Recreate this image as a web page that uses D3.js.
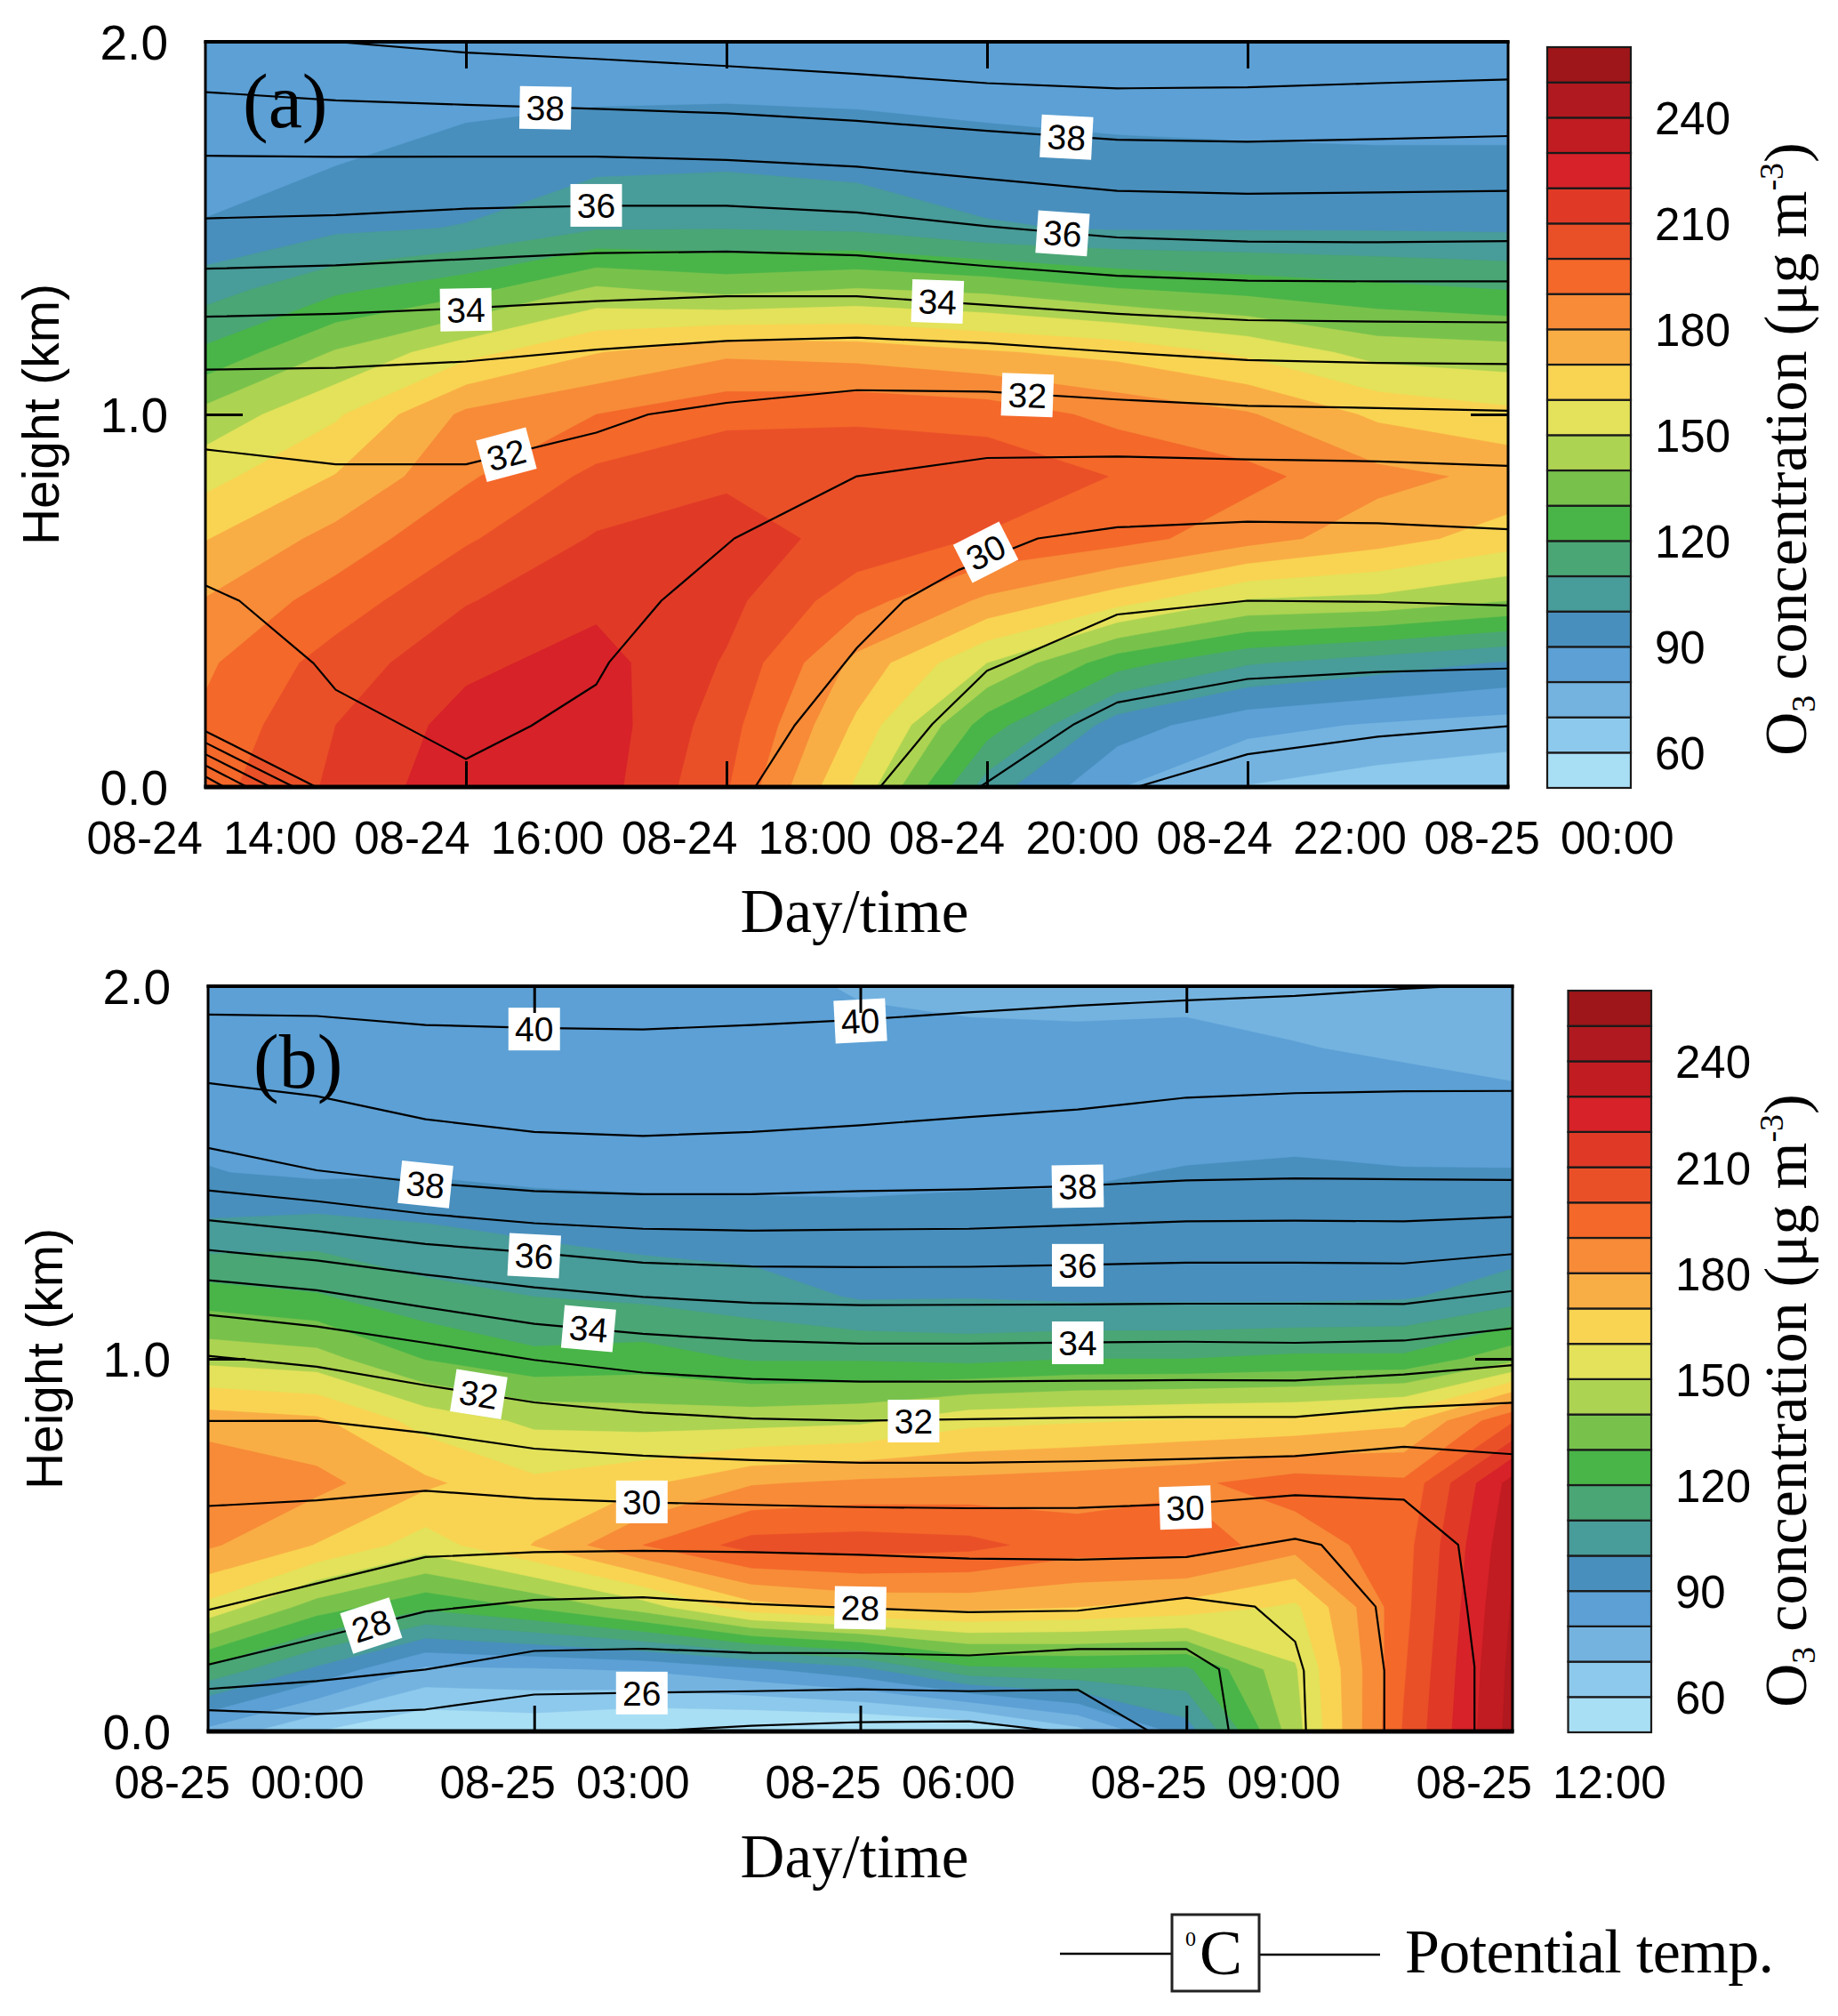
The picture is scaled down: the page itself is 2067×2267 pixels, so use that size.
<!DOCTYPE html>
<html><head><meta charset="utf-8">
<script src="https://cdn.jsdelivr.net/npm/d3@7"></script>
<style>html,body{margin:0;padding:0;background:#fff}svg{display:block}</style>
</head><body><svg id="c" width="2067" height="2267" viewBox="0 0 2067 2267"></svg>
<script>
// ---------- data ----------
const bandFloors = [50,60,70,80,90,100,110,120,130,140,150,160,170,180,190,200,210,220,230,240,250];
const bandColors = ["#a9dff5","#8dc9ec","#74b3e0","#5ca0d5","#488fbd","#489c99","#4aa675","#49b548","#78c24c","#add352","#e3e25a","#f9d452","#f9ae45","#f78b38","#f4682a","#ea5028","#e03a27","#d72229","#c11c22","#b0191f","#9e1619"];
const barTicks = [60,90,120,150,180,210,240];
const kmLevels = 13; // 0 to 2 km, one sixth of a km apart

// O3, one list per hour, from the ground up
const o3A = [
 [196,192,188.3,180.6,169.5,156.5,143.4,122,106,91,85,84,83],
 [212,210,204.5,194.5,183.5,170.5,158.5,141,118,98,90,86,84],
 [227,224,217.6,209.3,198.7,188.5,182.2,156.5,126.8,100.5,94.5,88,84],
 [225,226,224,217.5,211,202.5,190,169.5,142,109,98,89.6,85],
 [201,204.5,209,213,214,208.5,197,178,137,109.5,99,90,85],
 [158,168,177,194,207,208,198,176,141,108,97,89.3,85],
 [105,125,150,178,199,207,196,171,138,101,94.5,88,85],
 [80.5,95,124,164,194,199.5,187,167,131,99,93,87,84],
 [69.5,83,111,149,184,193,181,158,127,99,92,87,84],
 [65,79,105,147,174.5,183,168,146,123,99,92,86,84],
 [62,76,99,140,165,177.5,162.6,144,120,98.5,92,86,84]
];
const o3B = [
 [77,117.5,157,181.5,190,175,147,125,103.3,90.5,86,84,83],
 [60,98,135,169.5,183,172,144,121,106,88,86,85,84],
 [50,78,122,155,172,156,129.5,113.4,102.5,89,86,85,84],
 [52,79,131,170.5,162,148,122.5,110,99,87,85.5,84.5,84],
 [47,81,145,190,168,146,124.5,108,96,87,85,84,83],
 [45,88,166,204,179,146,119,105,95,87,85,84,83],
 [45,97,172,205,182,148,119,99,94.5,87,85,83,79],
 [47,117,173,203,183,157,117,99.5,93.5,88.5,85,83,77],
 [66,119,170,195,185,159,120,98,93,89,85,83,76],
 [95,118,166,196,188,161,120,98,92,90.5,86,83,77],
 [146,149,158,184,195,162,122,98,92,91,87,80.5,76],
 [201,199,197,196,192,167.5,122,99,93,90.5,85,78.5,74],
 [244,243,241,238,234,199,137,105,94,90.5,83.5,76,73]
];
// potential temperature lines: [hour since start of panel, km]
const hrsA = [0,1,2,3,4,5,6,7,8,9,10];
const thetaA = [
 [[1,2.0],[2,1.971],[3,1.954],[4,1.935],[5,1.914],[6,1.889],[7,1.875],[8,1.878],[9,1.889],[10,1.899]],
 hrsA.map((h,i)=>[h,[1.865,1.843,1.831,1.82,1.808,1.788,1.761,1.737,1.732,1.739,1.747][i]]),
 hrsA.map((h,i)=>[h,[1.694,1.691,1.692,1.692,1.683,1.665,1.632,1.6,1.592,1.596,1.6][i]]),
 hrsA.map((h,i)=>[h,[1.526,1.535,1.552,1.56,1.56,1.542,1.505,1.475,1.464,1.462,1.465][i]]),
 hrsA.map((h,i)=>[h,[1.391,1.4,1.417,1.433,1.437,1.427,1.398,1.372,1.359,1.357,1.357][i]]),
 hrsA.map((h,i)=>[h,[1.262,1.27,1.285,1.304,1.317,1.317,1.294,1.27,1.253,1.249,1.247][i]]),
 hrsA.map((h,i)=>[h,[1.12,1.125,1.142,1.174,1.197,1.206,1.191,1.167,1.146,1.138,1.135][i]]),
 [[0,.906],[1,.866],[2,.866],[3,.951],[3.4,1.0],[4,1.031],[5,1.065],[6,1.061],[7,1.04],[8,1.023],[9,1.017],[10,1.01]],
 [[0,.541],[.26,.5],[.83,.332],[1,.261],[2,.075],[2.5,.164],[3,.275],[3.1,.335],[3.5,.5],[4.06,.667],[5,.834],[6,.883],[7,.887],[8,.879],[9,.874],[10,.862]],
 [[4.22,0],[4.52,.164],[5,.373],[5.36,.5],[5.78,.582],[6.39,.667],[7,.697],[8,.712],[9,.708],[10,.692]],
 [[5.18,0],[5.58,.169],[6,.312],[6.13,.331],[7,.463],[8,.5],[9,.497],[10,.487]],
 [[5.945,0],[6.67,.169],[7,.227],[8,.29],[9,.309],[10,.318]],
 [[7.15,0],[8,.088],[9,.135],[10,.163]],
 [[0,.15],[.85,0]],[[0,.119],[.68,0]],[[0,.088],[.5,0]],[[0,.058],[.32,0]],[[0,.028],[.145,0]]
];
const hrsB = [0,1,2,3,4,5,6,7,8,9,10,11,12];
const thetaB = [
 [[0,1.924],[1,1.92],[2,1.896],[3,1.888],[4,1.884],[5,1.896],[6,1.91],[7,1.93],[8,1.948],[9,1.962],[10,1.974],[11,1.993],[11.5,2.0]],
 hrsB.map((h,i)=>[h,[1.74,1.705,1.643,1.609,1.598,1.609,1.627,1.649,1.669,1.701,1.713,1.718,1.719][i]]),
 hrsB.map((h,i)=>[h,[1.566,1.506,1.472,1.45,1.442,1.442,1.45,1.455,1.464,1.479,1.484,1.482,1.48][i]]),
 hrsB.map((h,i)=>[h,[1.452,1.423,1.389,1.364,1.349,1.344,1.347,1.349,1.359,1.369,1.371,1.369,1.381][i]]),
 hrsB.map((h,i)=>[h,[1.372,1.343,1.308,1.285,1.258,1.248,1.246,1.247,1.252,1.258,1.258,1.256,1.281][i]]),
 hrsB.map((h,i)=>[h,[1.292,1.264,1.226,1.192,1.166,1.15,1.144,1.145,1.146,1.148,1.148,1.147,1.182][i]]),
 hrsB.map((h,i)=>[h,[1.211,1.184,1.138,1.094,1.067,1.049,1.041,1.041,1.044,1.046,1.043,1.049,1.082][i]]),
 hrsB.map((h,i)=>[h,[1.118,1.087,1.043,.997,.963,.946,.939,.939,.941,.943,.942,.958,.983][i]]),
 hrsB.map((h,i)=>[h,[1.008,.979,.929,.883,.856,.84,.834,.838,.842,.844,.844,.869,.882][i]]),
 hrsB.map((h,i)=>[h,[.833,.834,.801,.759,.74,.728,.721,.721,.725,.731,.739,.764,.744][i]]),
 [[0,.605],[1,.62],[2,.646],[3,.625],[4,.615],[5,.608],[6,.602],[7,.599],[8,.6],[9,.611],[10,.634],[11,.622],[11.5,.501],[11.58,.335],[11.65,.174],[11.65,0]],
 [[0,.326],[1,.397],[2,.468],[3,.481],[4,.485],[5,.481],[6,.474],[7,.464],[8,.461],[9,.468],[10,.517],[10.24,.501],[10.74,.335],[10.82,.163],[10.82,0]],
 [[0,.179],[1,.25],[2,.322],[3,.353],[4,.36],[5,.342],[6,.331],[7,.32],[8,.324],[9,.359],[9.63,.335],[10,.241],[10.08,.163],[10.1,0]],
 [[0,.114],[1,.135],[2,.166],[3,.216],[4,.222],[5,.211],[6,.21],[7,.204],[8,.221],[9,.221],[9.3,.167],[9.39,0]],
 [[0,.057],[1,.047],[2,.059],[3,.099],[4,.104],[5,.108],[6,.113],[7,.108],[8,.112],[8.66,0]],
 [[4.05,0],[5,.015],[6,.025],[7,.027],[7.82,0]]
];
// contour labels: [text, hour, km, tilt]
const labelsA = [["38",2.61,1.823,1],["38",6.61,1.744,3],["36",3.0,1.561,0],["36",6.58,1.486,4],["34",2.0,1.281,-1],["34",5.62,1.303,2],["32",2.31,.892,-15],["32",6.31,1.052,2],["30",5.99,.63,-27]];
const labelsB = [["40",3,1.885,0],["40",6,1.907,-3],["38",2,1.468,6],["38",8,1.463,-1],["36",3,1.277,3],["36",8,1.251,0],["34",3.5,1.081,5],["34",8,1.043,0],["32",2.49,.905,9],["32",6.49,.833,0],["30",3.99,.616,0],["30",8.99,.601,-2],["28",1.5,.284,-18],["28",6,.332,1],["26",3.99,.103,0]];
const timeLabelsA = ["08-24 14:00","08-24 16:00","08-24 18:00","08-24 20:00","08-24 22:00","08-25 00:00"];
const timeLabelsB = ["08-25 00:00","08-25 03:00","08-25 06:00","08-25 09:00","08-25 12:00"];
const ticksA = [2,4,6,8];
const ticksB = [3,6,9];
const heightTicks = [0,1,2];

// ---------- drawing ----------
const SANS = "'Liberation Sans',Arial,sans-serif", SERIF = "'Liberation Serif','Times New Roman',serif";
const svg = d3.select("#c");
const line2 = (x1,y1,x2,y2,w)=>svg.append("line").attr("x1",x1).attr("y1",y1).attr("x2",x2).attr("y2",y2).attr("stroke","#000").attr("stroke-width",w);

function panel(o){
  const x = d3.scaleLinear([0,o.hours],[o.l,o.r]);
  const y = d3.scaleLinear([0,2],[o.b,o.t]);
  const nx = o.grid.length, ny = kmLevels;
  const flat = [];
  for(let j=0;j<ny;j++) for(let i=0;i<nx;i++) flat.push(o.grid[i][j]);
  const thresholds = bandFloors.map((v,i)=>i===0?0:v);
  const conts = d3.contours().size([nx,ny]).smooth(true).thresholds(thresholds)(flat);
  const proj = d3.geoTransform({point(px,py){ this.stream.point(x(px-0.5), y((py-0.5)/6)); }});
  const path = d3.geoPath(proj);
  const clipId = "clip"+o.name;
  svg.append("clipPath").attr("id",clipId).append("rect").attr("x",o.l).attr("y",o.t).attr("width",o.r-o.l).attr("height",o.b-o.t);
  const g = svg.append("g").attr("clip-path",`url(#${clipId})`);
  g.selectAll("path.o3").data(conts).join("path").attr("class","o3")
    .attr("d",path).attr("fill",(d,i)=>bandColors[i]).attr("stroke",(d,i)=>bandColors[i]).attr("stroke-width",0.4);
  const ln = d3.line().x(d=>x(d[0])).y(d=>y(d[1]));
  g.selectAll("path.theta").data(o.theta).join("path").attr("class","theta")
    .attr("d",ln).attr("fill","none").attr("stroke","#000").attr("stroke-width",2.2).attr("stroke-linejoin","round");
  // contour labels
  const lab = svg.append("g").selectAll("g").data(o.labels).join("g")
    .attr("transform",d=>`translate(${x(d[1])},${y(d[2])}) rotate(${d[3]})`);
  lab.append("rect").attr("x",-29).attr("y",-24).attr("width",58).attr("height",48).attr("fill","#fff");
  lab.append("text").attr("text-anchor","middle").attr("y",14).attr("font-family",SANS).attr("font-size",39).attr("fill","#000").text(d=>d[0]);
  // interior ticks
  const ax = (gen,tx,ty)=>{ const a = svg.append("g").attr("transform",`translate(${tx},${ty})`).call(gen);
    a.select(".domain").remove(); a.selectAll("text").remove(); a.selectAll("line").attr("stroke","#000").attr("stroke-width",3); };
  ax(d3.axisBottom(x).tickValues(o.ticks).tickSize(-29),0,o.b);
  ax(d3.axisTop(x).tickValues(o.ticks).tickSize(-30),0,o.t);
  ax(d3.axisLeft(y).tickValues([1]).tickSize(-42),o.l,0);
  ax(d3.axisRight(y).tickValues([1]).tickSize(-42),o.r,0);
  // frame
  svg.append("rect").attr("x",o.l).attr("y",o.t).attr("width",o.r-o.l).attr("height",o.b-o.t).attr("fill","none").attr("stroke","#000").attr("stroke-width",3);
  line2(o.l-1.5,o.b,o.r+1.5,o.b,5); line2(o.l-1.5,o.t,o.r+1.5,o.t,4);
  // height tick labels
  svg.append("g").selectAll("text").data(heightTicks).join("text")
    .attr("x",o.l-42).attr("y",d=>y(d)+20).attr("text-anchor","end").attr("font-family",SANS).attr("font-size",55).text(d=>d.toFixed(1));
  // time tick labels
  const tl = d3.scalePoint(o.timeLabels,[o.tl0,o.tl1]);
  svg.append("g").selectAll("text").data(o.timeLabels).join("text")
    .attr("x",d=>tl(d)).attr("y",o.b+75).attr("text-anchor","middle").attr("font-family",SANS).attr("font-size",51).attr("word-spacing",9).text(d=>d);
  // titles
  svg.append("text").attr("x",961).attr("y",o.b+o.xTitle).attr("text-anchor","middle").attr("font-family",SERIF).attr("font-size",69).text("Day/time");
  svg.append("text").attr("transform",`translate(${o.yTitleX},${y(1)}) rotate(-90)`).attr("text-anchor","middle")
    .attr("font-family",SANS).attr("font-size",58).attr("textLength",294).attr("lengthAdjust","spacingAndGlyphs").text("Height (km)");
  svg.append("text").attr("x",o.pl.x).attr("y",o.pl.y).attr("font-family",SERIF).attr("font-size",86).text(o.pl.t);
  // colour bar
  const cy = d3.scaleLinear([50,260],[o.cb,o.ct]);
  svg.append("g").selectAll("rect").data(bandFloors).join("rect")
    .attr("x",o.cl).attr("width",o.cr-o.cl).attr("y",d=>cy(d+10)).attr("height",d=>cy(d)-cy(d+10))
    .attr("fill",(d,i)=>bandColors[i]).attr("stroke","#1a1a1a").attr("stroke-width",2.2);
  svg.append("g").selectAll("text").data(barTicks).join("text")
    .attr("x",o.cr+o.cg).attr("y",d=>cy(d)+19).attr("font-family",SANS).attr("font-size",51).text(d=>d);
  // colour bar title
  const t = svg.append("text").attr("transform",`translate(2031,${o.cTitleY}) rotate(-90)`).attr("text-anchor","middle")
    .attr("font-family",SERIF).attr("font-size",68);
  t.append("tspan").text("O");
  t.append("tspan").attr("dy",10).attr("font-size",38).text("3");
  t.append("tspan").attr("dy",-10).text(" concentration (μg m");
  t.append("tspan").attr("dy",-26).attr("font-size",38).text("-3");
  t.append("tspan").attr("dy",26).text(")");
}

panel({name:"a",hours:10,l:231,r:1696,t:47,b:885,grid:o3A,theta:thetaA,labels:labelsA,ticks:ticksA,timeLabels:timeLabelsA,tl0:238,tl1:1742,xTitle:163,yTitleX:66,
  pl:{x:273,y:143,t:"(a)"},cl:1740,cr:1834,ct:53,cb:886,cg:27,cTitleY:505});
panel({name:"b",hours:12,l:234,r:1701,t:1109,b:1947,grid:o3B,theta:thetaB,labels:labelsB,ticks:ticksB,timeLabels:timeLabelsB,tl0:269,tl1:1733,xTitle:164,yTitleX:70,
  pl:{x:285,y:1223,t:"(b)"},cl:1763.5,cr:1857,ct:1114,cb:1948,cg:27,cTitleY:1575});

// legend
line2(1192,2197,1318,2197,2.5);
line2(1416,2198,1552,2198,2.5);
svg.append("rect").attr("x",1318).attr("y",2153).attr("width",98).attr("height",86).attr("fill","#fff").attr("stroke","#222").attr("stroke-width",3);
svg.append("text").attr("x",1333).attr("y",2188).attr("font-family",SERIF).attr("font-size",24).text("0");
svg.append("text").attr("x",1349).attr("y",2220).attr("font-family",SERIF).attr("font-size",72).text("C");
svg.append("text").attr("x",1580).attr("y",2218).attr("font-family",SERIF).attr("font-size",70).attr("textLength",415).text("Potential temp.");
</script></body></html>
